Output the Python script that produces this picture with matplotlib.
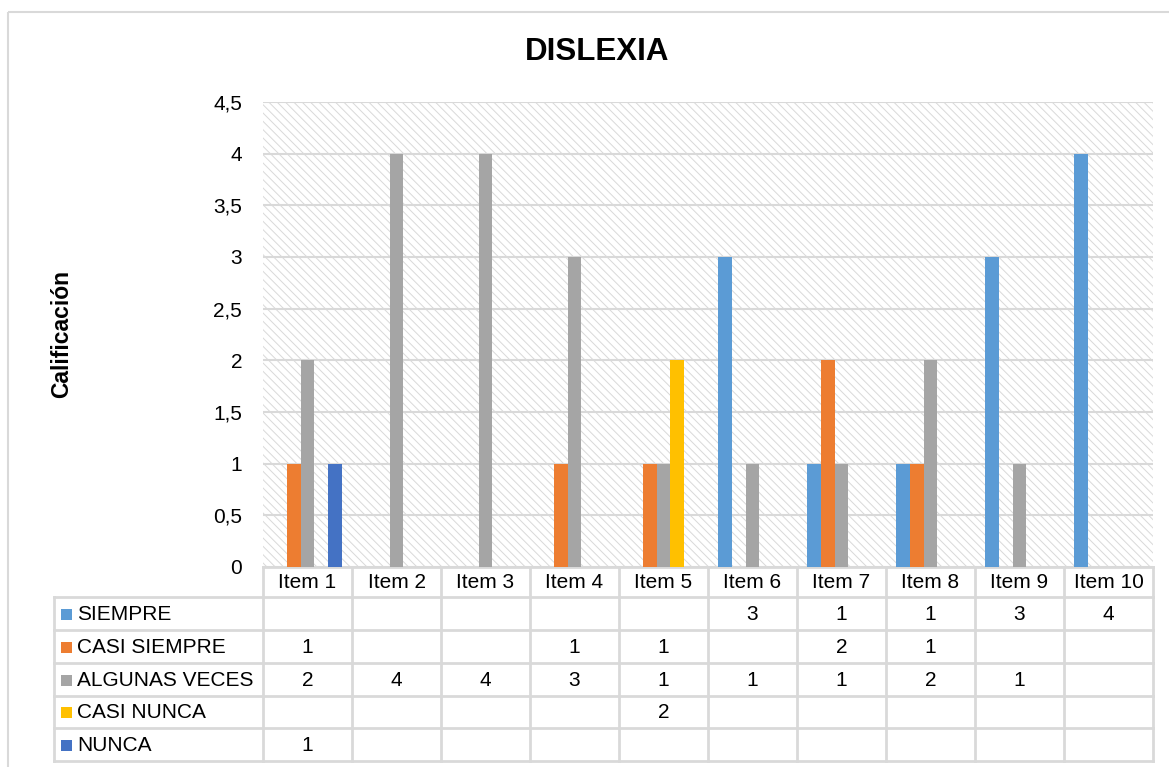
import numpy as np
import matplotlib
matplotlib.use('Agg')
import matplotlib.pyplot as plt
from matplotlib.patches import Rectangle

plt.rcParams['font.family'] = ['Liberation Sans', 'DejaVu Sans']
plt.rcParams['hatch.linewidth'] = 0.7

# data (nan = empty cell in the data table)
items = ['Item 1', 'Item 2', 'Item 3', 'Item 4', 'Item 5',
         'Item 6', 'Item 7', 'Item 8', 'Item 9', 'Item 10']
series_names = ['SIEMPRE', 'CASI SIEMPRE', 'ALGUNAS VECES', 'CASI NUNCA', 'NUNCA']
siempre = [np.nan, np.nan, np.nan, np.nan, np.nan, 3, 1, 1, 3, 4]
casi_siempre = [1, np.nan, np.nan, 1, 1, np.nan, 2, 1, np.nan, np.nan]
algunas_veces = [2, 4, 4, 3, 1, 1, 1, 2, 1, np.nan]
casi_nunca = [np.nan, np.nan, np.nan, np.nan, 2, np.nan, np.nan, np.nan, np.nan, np.nan]
nunca = [1, np.nan, np.nan, np.nan, np.nan, np.nan, np.nan, np.nan, np.nan, np.nan]
series_values = [siempre, casi_siempre, algunas_veces, casi_nunca, nunca]
colors = ['#5b9bd5', '#ed7d31', '#a5a5a5', '#ffc000', '#4472c4']
yticks = [0, 0.5, 1, 1.5, 2, 2.5, 3, 3.5, 4, 4.5]

W, H = 1169, 767
fig = plt.figure(figsize=(W / 100, H / 100), dpi=100)

# pixel layout
px_left, px_right = 263, 1153
px_top, px_bottom = 102, 567
leg_left = 54
row_edges = [567, 597, 630, 663, 696, 728, 761]
grid_col = '#d9d9d9'
fs = 15

# background axes in pixel coordinates for border and data table
bg = fig.add_axes([0, 0, 1, 1])
bg.set_xlim(0, W)
bg.set_ylim(H, 0)
bg.axis('off')
bg.add_patch(Rectangle((8, 12), W, H, fill=False, edgecolor='#d9d9d9', lw=1.5))

ax = fig.add_axes([px_left / W, (H - px_bottom) / H,
                   (px_right - px_left) / W, (px_bottom - px_top) / H])
# hatched plot area like the excel pattern fill
ax.add_patch(Rectangle((0, 0), 1, 1, transform=ax.transAxes, facecolor='white',
                       edgecolor='#d9d9d9', lw=0, hatch='\\\\\\\\', zorder=0))
x = np.arange(len(items))
bw = 0.155
for i, (name, vals, c) in enumerate(zip(series_names, series_values, colors)):
    ax.bar(x + (i - 2) * bw, np.nan_to_num(np.array(vals, dtype=float)), bw,
           color=c, zorder=3, label=name)
ax.set_xlim(-0.5, len(items) - 0.5)
ax.set_ylim(0, 4.5)
ax.set_yticks(yticks)
ax.set_yticklabels([f'{v:g}'.replace('.', ',') for v in yticks], fontsize=fs)
ax.set_xticks([])
ax.tick_params(axis='y', length=0, pad=15)
ax.yaxis.grid(True, color=grid_col, lw=1.5, zorder=1)
ax.set_axisbelow(True)
for s in ax.spines.values():
    s.set_visible(False)

fig.text(597 / W, 1 - 52 / H, 'DISLEXIA',
         ha='center', va='center', fontsize=22.5, fontweight='bold')
fig.text(62 / W, 1 - (px_top + px_bottom) / 2 / H, 'Calificación', rotation=90,
         ha='center', va='center', fontsize=16.5, fontweight='bold')

# data table
col_w = (px_right - px_left) / len(items)
col_edges = [px_left + k * col_w for k in range(len(items) + 1)]
tl = dict(color=grid_col, lw=2, solid_capstyle='projecting')
bg.plot([px_left, px_right], [row_edges[0]] * 2, **tl)
for yy in row_edges[1:]:
    bg.plot([leg_left, px_right], [yy, yy], **tl)
for xx in col_edges:
    bg.plot([xx, xx], [row_edges[0], row_edges[-1]], **tl)
bg.plot([leg_left, leg_left], [row_edges[1], row_edges[-1]], **tl)

for j, it in enumerate(items):
    cx = (col_edges[j] + col_edges[j + 1]) / 2
    bg.text(cx, (row_edges[0] + row_edges[1]) / 2 + 1, it, ha='center', va='center', fontsize=fs)
for i, (name, vals, c) in enumerate(zip(series_names, series_values, colors)):
    cy = (row_edges[i + 1] + row_edges[i + 2]) / 2 + 1
    bg.add_patch(Rectangle((61, cy - 6), 11, 11, facecolor=c, edgecolor='none'))
    bg.text(77, cy, name, ha='left', va='center', fontsize=fs)
    for j, v in enumerate(vals):
        if not np.isnan(v):
            cx = (col_edges[j] + col_edges[j + 1]) / 2
            bg.text(cx, cy, f'{v:g}', ha='center', va='center', fontsize=fs)

fig.savefig('out.png', dpi=100)
